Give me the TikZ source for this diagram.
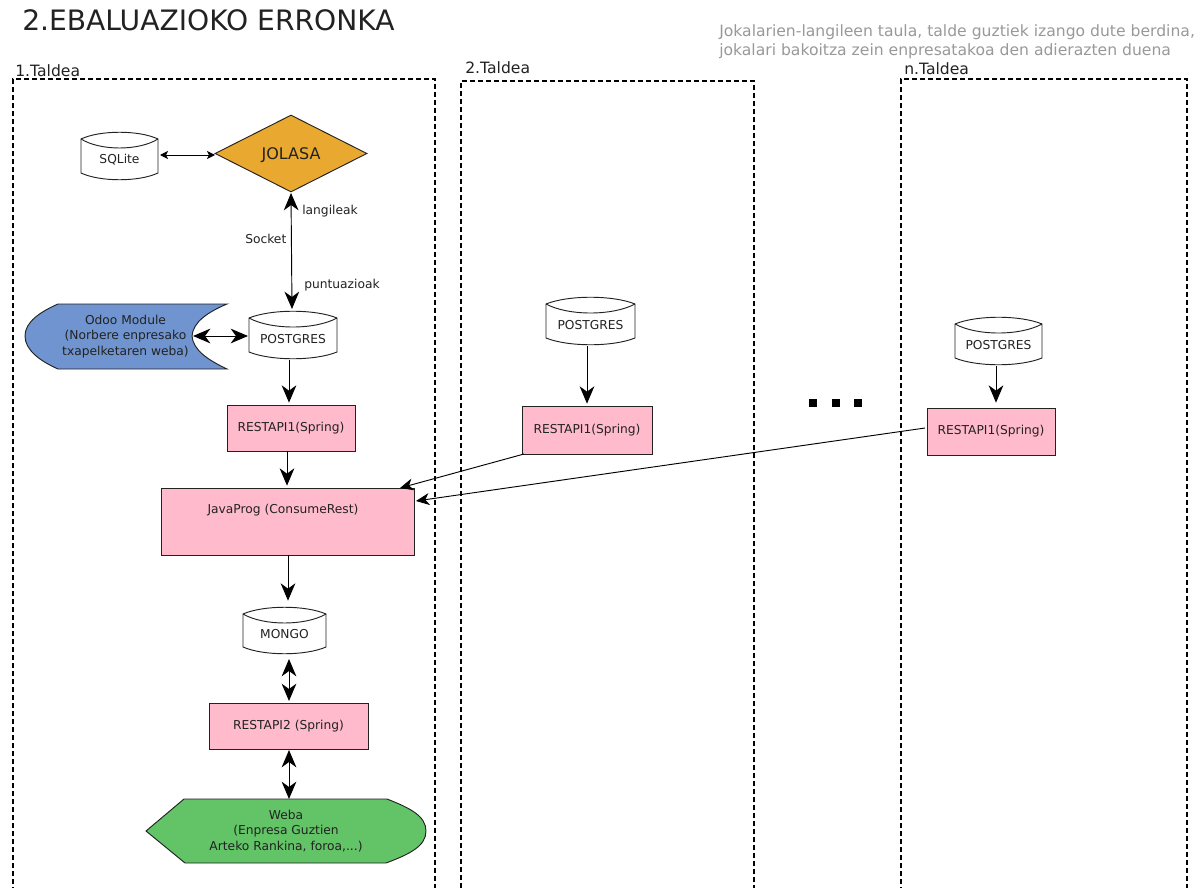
\documentclass[tikz,border=0pt]{standalone}
\usepackage{fontspec}
\setmainfont{DejaVu Sans}
\usetikzlibrary{arrows.meta,shapes.geometric,calc}
\definecolor{pinkbox}{HTML}{FFBBCC}
\definecolor{gold}{HTML}{E9A830}
\definecolor{bluebox}{HTML}{6F94CF}
\definecolor{greenbox}{HTML}{62C466}
\definecolor{greytxt}{HTML}{999999}
\definecolor{ink}{HTML}{222222}
\tikzset{
  x=0.75pt,y=-0.75pt,
  lbl/.style={font=\fontsize{9.2}{11.5}\selectfont,text=ink,inner sep=0pt,align=center},
  hit/.style={inner sep=0pt,outer sep=0pt,rectangle},
  rest/.style={hit,draw=ink,line width=0.7pt,fill=pinkbox,lbl},
  zone/.style={draw=black,line width=1.3pt,dash pattern=on 3.4pt off 2.6pt},
  zonelbl/.style={font=\fontsize{11.7}{14}\selectfont,text=ink,inner sep=0pt,anchor=west},
  big/.style={line width=0.7pt,-{Stealth[inset=4pt,length=13pt,width=11pt]},shorten >=1pt},
  bigboth/.style={line width=0.7pt,{Stealth[inset=4pt,length=13pt,width=11pt]}-{Stealth[inset=4pt,length=13pt,width=11pt]}},
  small/.style={line width=0.7pt,{Stealth[inset=1.5pt,length=6pt,width=6pt]}-{Stealth[inset=1.5pt,length=6pt,width=6pt]}},
  flow/.style={line width=0.7pt,-{Stealth[inset=3pt,length=10pt,width=9pt]}},
}
% cylinder: name, x1, x2, ytop, ybottom, text
\newcommand{\dbcyl}[6]{%
  \path[fill=white,draw=ink,line width=0.7pt]
    (#2,#4+8) .. controls (#2+0.25*#3-0.25*#2,#4-1) and (#3-0.25*#3+0.25*#2,#4-1) .. (#3,#4+8)
    -- (#3,#5-8) .. controls (#3-0.25*#3+0.25*#2,#5+1) and (#2+0.25*#3-0.25*#2,#5+1) .. (#2,#5-8) -- cycle;
  \draw[ink,line width=0.7pt]
    (#2,#4+8) .. controls (#2+0.25*#3-0.25*#2,#4+20) and (#3-0.25*#3+0.25*#2,#4+20) .. (#3,#4+8);
  \node[hit,minimum width=(#3-#2)*0.75pt,minimum height=(#5-#4)*0.75pt] (#1) at ({(#2+#3)/2},{(#4+#5)/2}) {};
  \node[lbl] (#1txt) at ({(#2+#3)/2},{(#4+#5)/2+4}) {#6};
}
\newcommand{\restbox}[6]{%
  \node[rest,minimum width=(#3-#2)*0.75pt,minimum height=(#5-#4)*0.75pt] (#1) at ({(#2+#3)/2},{(#4+#5)/2}) {#6};
}
\begin{document}
\begin{tikzpicture}
\useasboundingbox (0,0) rectangle (1202,888);
\clip (0,0) rectangle (1202,888);
\fill[white] (0,0) rectangle (1202,888);

% title and note
\node[inner sep=0pt,anchor=west,text=ink,font=\fontsize{21.1}{25}\selectfont] (title) at (22,20) {2.EBALUAZIOKO ERRONKA};
\node[inner sep=0pt,anchor=west,align=left,text=greytxt,font=\fontsize{11.7}{14.2}\selectfont] (note) at (719,42)
  {Jokalarien-langileen taula, talde guztiek izango dute berdina,\\jokalari bakoitza zein enpresatakoa den adierazten duena};

% team zones
\node[hit,zone,minimum width=422*0.75pt,minimum height=860*0.75pt,anchor=north west] (zone1) at (13,79) {};
\node[hit,zone,minimum width=293*0.75pt,minimum height=860*0.75pt,anchor=north west] (zone2) at (461,81) {};
\node[hit,zone,minimum width=286*0.75pt,minimum height=860*0.75pt,anchor=north west] (zone3) at (901,79) {};
\node[zonelbl] (t1) at (15,71) {1.Taldea};
\node[zonelbl] (t2) at (465,68) {2.Taldea};
\node[zonelbl] (tn) at (904,69) {n.Taldea};

% team 1
\dbcyl{sqlite}{81}{158}{131}{181}{SQLite}
\node[diamond,draw=ink,fill=gold,line width=0.7pt,inner sep=0pt,minimum width=152*0.75pt,minimum height=77*0.75pt,aspect=2,font=\fontsize{12}{14}\selectfont,text=ink,text height=8.8pt,text depth=0pt] (jolasa) at (291,153.5) {JOLASA};
\dbcyl{post1}{249}{337}{310}{360}{POSTGRES}

\draw[fill=bluebox,draw=ink,line width=0.7pt]
  (227,304) -- (58,304) .. controls (40,312) and (25,322) .. (25,336)
  .. controls (25,350) and (40,361) .. (58,369) -- (227,369)
  .. controls (208,360) and (193,350) .. (192,336)
  .. controls (193,322) and (208,312) .. (227,304) -- cycle;
\node[hit,lbl,minimum width=167*0.75pt,minimum height=65*0.75pt] (odoo) at (125.5,336.5) {Odoo Module\\(Norbere enpresako\\txapelketaren weba)};

\restbox{rest1}{227}{355}{405}{451}{RESTAPI1(Spring)}
\node[hit,draw=ink,fill=pinkbox,line width=0.7pt,minimum width=253*0.75pt,minimum height=67*0.75pt] (java) at (287.5,521.5) {};
\node[lbl] (javatxt) at (283,510) {JavaProg (ConsumeRest)};
\dbcyl{mongo}{243}{326}{606}{655}{MONGO}
\restbox{rest2}{209}{368}{703}{749}{RESTAPI2 (Spring)}

\draw[fill=greenbox,draw=ink,line width=0.7pt]
  (146,831) -- (184,799) -- (387,799) .. controls (410,808) and (426,816) .. (426,831)
  .. controls (426,846) and (410,854) .. (386,863) -- (185,863) -- cycle;
\node[hit,lbl,minimum width=202*0.75pt,minimum height=64*0.75pt] (weba) at (286,831) {Weba\\(Enpresa Guztien\\Arteko Rankina, foroa,...)};

% team 2
\dbcyl{post2}{546}{635}{296}{346}{POSTGRES}
\restbox{rest3}{522}{652}{406}{454}{RESTAPI1(Spring)}

% team n
\dbcyl{post3}{955}{1042}{316}{366}{POSTGRES}
\restbox{rest4}{927}{1055}{408}{455}{RESTAPI1(Spring)}

% ellipsis
\foreach \dx/\nm in {809/a,832/b,854/c}
  \node[hit,fill=black,minimum width=6pt,minimum height=6pt,anchor=north west] (dot\nm) at (\dx,399) {};

% connectors
\coordinate (sqR) at (160,155);
\coordinate (joL) at (215,155);
\draw[small] (sqR) -- (joL);
\coordinate (joS) at (291,193);
\coordinate (poN) at (292,309);
\draw[bigboth] (joS) -- (poN);
\coordinate (odR) at (193,336);
\coordinate (poW) at (248,336);
\draw[bigboth] (odR) -- (poW);
\coordinate (poS) at (289,360);
\coordinate (reN) at (289,404);
\draw[big] (poS) -- (reN);
\coordinate (reS) at (287,451);
\coordinate (jaN) at (287,487);
\draw[big] (reS) -- (jaN);
\coordinate (jaS) at (288,555);
\coordinate (moN) at (288,602);
\draw[big] (jaS) -- (moN);
\coordinate (moS) at (289,659);
\coordinate (r2N) at (289,701);
\draw[bigboth] (moS) -- (r2N);
\coordinate (r2S) at (289,750);
\coordinate (weN) at (289,799);
\draw[bigboth] (r2S) -- (weN);
\coordinate (p2S) at (587,346);
\coordinate (r3N) at (587,405);
\draw[big] (p2S) -- (r3N);
\coordinate (p3S) at (996,366);
\coordinate (r4N) at (996,404);
\draw[big] (p3S) -- (r4N);
\coordinate (r3W) at (524,454);
\coordinate (jaA) at (400,488);
\draw[flow] (r3W) -- (jaA);
\coordinate (r4W) at (925,428);
\coordinate (jaB) at (416,501);
\draw[flow] (r4W) -- (jaB);

% connector labels
\node[lbl,anchor=west] (lang) at (302,211) {langileak};
\node[lbl,anchor=west] (sock) at (245,239) {Socket};
\node[lbl,anchor=west] (punt) at (304,285) {puntuazioak};
\end{tikzpicture}
\end{document}
